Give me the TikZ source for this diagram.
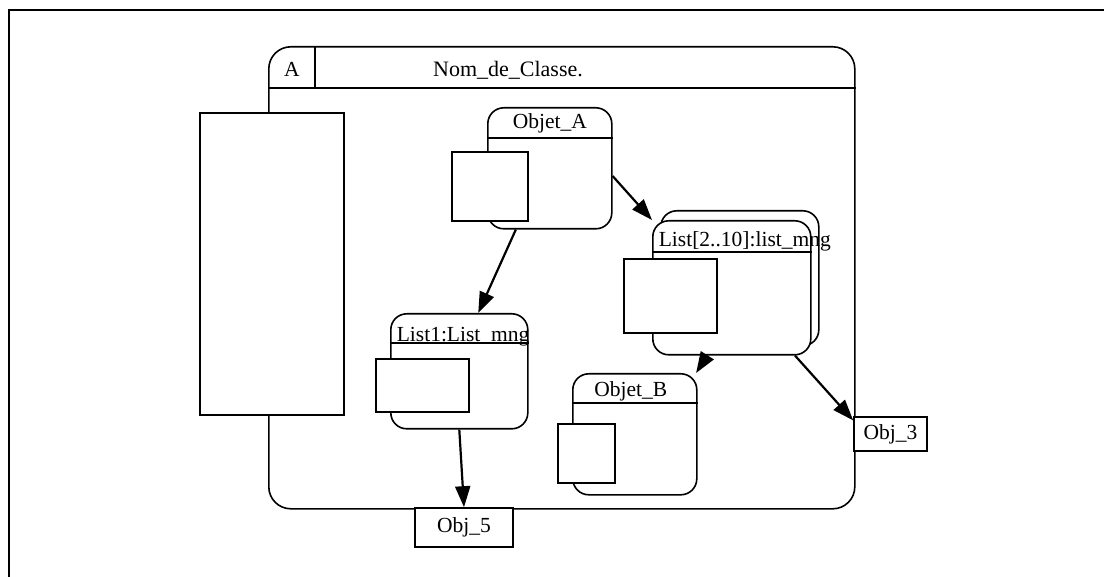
\documentclass[tikz,border=0pt]{standalone}
\usepackage{fontspec}
\setmainfont{Liberation Serif}
\usetikzlibrary{arrows.meta,positioning}

\begin{document}
\begin{tikzpicture}[x=1pt,y=-1pt,line width=1.6pt,font=\fontsize{21.5}{25}\selectfont,
  box/.style={draw,fill=white,rounded corners=#1,anchor=north west,inner sep=0pt},
  port/.style={draw,fill=white,anchor=north west,inner sep=0pt},
  tag/.style={draw,fill=white,inner sep=0pt},
  arr/.style={line width=2.2pt,-{Triangle[length=21pt,width=15pt]}}]
\useasboundingbox (0,0) rectangle (1104,577);
\draw[line width=2.2pt] (9,577) -- (9,10) -- (1104,10);
% classe
\node[box=22pt,minimum width=586pt,minimum height=462pt] (cls) at (268,46) {};
\draw ([yshift=-42pt]cls.north west) -- ([yshift=-42pt]cls.north east);
\draw ([xshift=47pt]cls.north west) -- ([xshift=47pt,yshift=-42pt]cls.north west);
\node[anchor=base] (clsA) at (292,77) {A};
\node[anchor=base,font=\fontsize{22}{26}\selectfont] (clsname) at (508,77) {Nom\_de\_Classe.};
\node[port,minimum width=144pt,minimum height=302pt] (attr) at (199,112) {};
% objets
\node[box=16pt,minimum width=124pt,minimum height=121pt] (objA) at (487,107) {};
\draw ([yshift=-31pt]objA.north west) -- ([yshift=-31pt]objA.north east);
\node[anchor=base] (objAt) at ([yshift=-22pt]objA.north) {Objet\_A};
\node[port,minimum width=76pt,minimum height=69pt] (objAp) at (451,151) {};
\node[box=16pt,minimum width=158pt,minimum height=135pt] (lstB) at (660,210) {};
\node[box=16pt,minimum width=158pt,minimum height=134pt] (lstF) at (652,220) {};
\draw ([yshift=-32pt]lstF.north west) -- ([yshift=-32pt]lstF.north east);
\node[anchor=base west,inner sep=0pt] (lstFt) at ([xshift=6pt,yshift=-27pt]lstF.north west) {List[2..10]:list\_mng};
\node[port,minimum width=93pt,minimum height=74pt] (lstFp) at (623,258) {};
\node[box=16pt,minimum width=137pt,minimum height=115pt] (lst1) at (390,313) {};
\draw ([yshift=-30pt]lst1.north west) -- ([yshift=-30pt]lst1.north east);
\node[anchor=base west,inner sep=0pt] (lst1t) at ([xshift=6pt,yshift=-29pt]lst1.north west) {List1:List\_mng};
\node[port,minimum width=93pt,minimum height=53pt] (lst1p) at (375,358) {};
\node[box=16pt,minimum width=124pt,minimum height=121pt] (objB) at (572,373) {};
\draw ([yshift=-30pt]objB.north west) -- ([yshift=-30pt]objB.north east);
\node[anchor=base] (objBt) at ([yshift=-24pt,xshift=-4pt]objB.north) {Objet\_B};
\node[port,minimum width=57pt,minimum height=59pt] (objBp) at (557,423) {};
\node[tag,minimum width=73pt,minimum height=34pt] (obj3) at (890.5,434) {Obj\_3};
\node[tag,minimum width=98pt,minimum height=39pt] (obj5) at (464,527.5) {Obj\_5};
% liens
\draw[arr] (objA.241) -- (lst1.72);
\draw[arr] (objA.353) -- (lstF.north west);
\draw[arr] (lstF.250) -- (objB.45);
\draw[arr] (lstF.313) -- (obj3.160);
\draw[arr] (lst1.south) -- (obj5.north);
\end{tikzpicture}
\end{document}
